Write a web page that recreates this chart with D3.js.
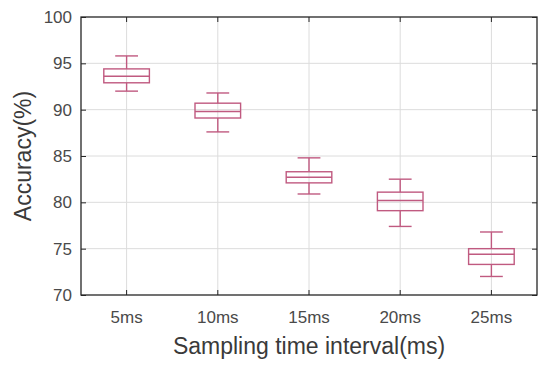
<!DOCTYPE html>
<html>
<head>
<meta charset="utf-8">
<script src="https://cdn.jsdelivr.net/npm/d3@7.9.0/dist/d3.min.js"></script>
<style>
  body { margin: 0; background: #fff; }
  svg text { font-family: "Liberation Sans", Arial, sans-serif; }
</style>
</head>
<body>
<svg width="550" height="367"></svg>
<script>
// box stats per sampling interval
const categories = ['5ms', '10ms', '15ms', '20ms', '25ms'];
const whiskerLow = [92.0, 87.6, 80.9, 77.4, 72.0];
const q1 = [92.9, 89.1, 82.1, 79.1, 73.3];
const median = [93.6, 89.8, 82.7, 80.2, 74.4];
const q3 = [94.4, 90.7, 83.3, 81.1, 75.0];
const whiskerHigh = [95.8, 91.8, 84.8, 82.5, 76.8];
const yTicks = [70, 75, 80, 85, 90, 95, 100];

const boxColor = '#c05a80';
const margin = { top: 17, right: 13, bottom: 72, left: 81 };
const width = 550, height = 367;

let svg = d3.select('svg');

let x = d3.scaleBand()
  .domain(categories)
  .range([margin.left, width - margin.right]);

let y = d3.scaleLinear()
  .domain([70, 100])
  .range([height - margin.bottom, margin.top]);

// grid
svg.append('g').selectAll('line.gx')
  .data(categories).join('line')
  .attr('x1', d => x(d) + x.bandwidth() / 2)
  .attr('x2', d => x(d) + x.bandwidth() / 2)
  .attr('y1', y(70)).attr('y2', y(100))
  .attr('stroke', '#dcdcdc').attr('stroke-width', 1);

svg.append('g').selectAll('line.gy')
  .data(yTicks.slice(1, -1)).join('line')
  .attr('x1', margin.left).attr('x2', width - margin.right)
  .attr('y1', d => y(d)).attr('y2', d => y(d))
  .attr('stroke', '#dcdcdc').attr('stroke-width', 1);

// axes, ticks pointing inward
let xAxis = d3.axisBottom(x).tickSizeInner(-5).tickSizeOuter(0).tickPadding(16);
let yAxis = d3.axisLeft(y).tickValues(yTicks).tickSizeInner(-5).tickSizeOuter(0).tickPadding(9);

svg.append('g')
  .attr('transform', `translate(0,${y(70)})`)
  .call(xAxis);
svg.append('g')
  .attr('transform', `translate(${margin.left},0)`)
  .call(yAxis);

// top and right ticks
svg.append('g')
  .attr('transform', `translate(0,${y(100)})`)
  .call(d3.axisTop(x).tickSizeInner(-5).tickSizeOuter(0).tickFormat(''));
svg.append('g')
  .attr('transform', `translate(${width - margin.right},0)`)
  .call(d3.axisRight(y).tickValues(yTicks).tickSizeInner(-5).tickSizeOuter(0).tickFormat(''));

svg.selectAll('.domain').remove();
svg.selectAll('.tick line').attr('stroke', '#262626');
svg.selectAll('.tick text')
  .attr('fill', '#4a4a4a')
  .style('font-size', '17px');

// frame
svg.append('rect')
  .attr('x', margin.left).attr('y', margin.top)
  .attr('width', width - margin.right - margin.left)
  .attr('height', y(70) - y(100))
  .attr('fill', 'none')
  .attr('stroke', '#262626').attr('stroke-width', 1.3);

// boxes
let boxW = x.bandwidth() * 0.5;
let capW = x.bandwidth() * 0.25;
categories.forEach((c, i) => {
  let cx = x(c) + x.bandwidth() / 2;
  let g = svg.append('g')
    .attr('stroke', boxColor).attr('stroke-width', 1.4).attr('fill', 'none');
  g.append('line')
    .attr('x1', cx).attr('x2', cx)
    .attr('y1', y(whiskerHigh[i])).attr('y2', y(q3[i]));
  g.append('line')
    .attr('x1', cx).attr('x2', cx)
    .attr('y1', y(q1[i])).attr('y2', y(whiskerLow[i]));
  g.append('line')
    .attr('x1', cx - capW / 2).attr('x2', cx + capW / 2)
    .attr('y1', y(whiskerHigh[i])).attr('y2', y(whiskerHigh[i]));
  g.append('line')
    .attr('x1', cx - capW / 2).attr('x2', cx + capW / 2)
    .attr('y1', y(whiskerLow[i])).attr('y2', y(whiskerLow[i]));
  g.append('rect')
    .attr('x', cx - boxW / 2).attr('width', boxW)
    .attr('y', y(q3[i])).attr('height', y(q1[i]) - y(q3[i]));
  g.append('line')
    .attr('x1', cx - boxW / 2).attr('x2', cx + boxW / 2)
    .attr('y1', y(median[i])).attr('y2', y(median[i]));
});

// axis titles
svg.append('text')
  .attr('x', (margin.left + width - margin.right) / 2)
  .attr('y', 354)
  .attr('text-anchor', 'middle')
  .attr('fill', '#3a3a3a')
  .style('font-size', '23px')
  .text('Sampling time interval(ms)');

svg.append('text')
  .attr('transform', `translate(31,${(y(70) + y(100)) / 2}) rotate(-90)`)
  .attr('text-anchor', 'middle')
  .attr('fill', '#3a3a3a')
  .style('font-size', '23px')
  .text('Accuracy(%)');
</script>
</body>
</html>
